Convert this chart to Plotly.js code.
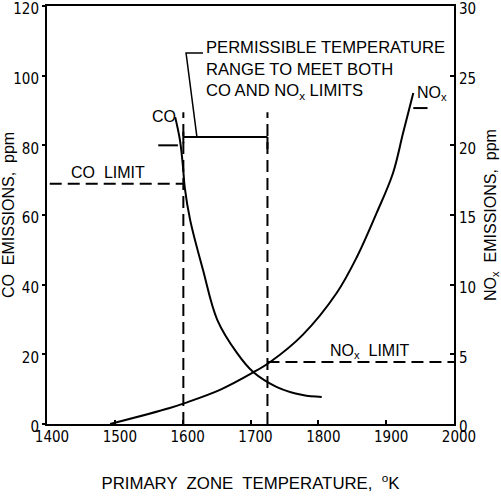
<!DOCTYPE html>
<html>
<head>
<meta charset="utf-8">
<script src="https://cdn.plot.ly/plotly-3.0.1.min.js"></script>
<style>
html,body{margin:0;padding:0;background:#fff;}
#chart{width:501px;height:496px;}
</style>
</head>
<body>
<div id="chart"></div>
<script>
// ---- data ----
const coTemp  = [1589, 1596, 1600.5, 1603, 1611, 1630, 1651, 1680, 1704, 1739, 1777, 1805];
const coPpm   = [88.1, 81.5, 73.8, 68.0, 58.6, 44.2, 29.9, 20.4, 14.9, 10.6, 8.3, 7.75];
const noxTemp = [1493, 1581, 1603, 1655, 1704, 1729, 1777, 1827, 1857, 1886, 1910, 1925, 1940];
const noxPpm  = [0, 1.15, 1.5, 2.45, 3.7, 4.45, 6.4, 9.4, 12.0, 15.15, 18.0, 20.9, 23.75];
const coLimit = 69;        // ppm, left axis
const noxLimit = 4.45;     // ppm, right axis (as drawn)
const rangeLow = 1601;     // K
const rangeHigh = 1725;    // K
const xTicks = [1400, 1500, 1600, 1700, 1800, 1900, 2000];
const coTicks = [0, 20, 40, 60, 80, 100, 120];
const noxTicks = [0, 5, 10, 15, 20, 25, 30];

const tickFont = {family: 'DejaVu Sans Condensed, DejaVu Sans, sans-serif', size: 15, color: '#000'};
const txtFont = {family: 'Liberation Sans, Arial, sans-serif', size: 16, color: '#000'};
const boxFont = {family: 'Liberation Sans, Arial, sans-serif', size: 16.6, color: '#000'};
const dash = '12px,6px';

const traces = [
  {x: coTemp, y: coPpm, mode: 'lines', line: {color: '#000', width: 2, shape: 'spline'}, yaxis: 'y', hoverinfo: 'skip'},
  {x: noxTemp, y: noxPpm, mode: 'lines', line: {color: '#000', width: 2, shape: 'spline'}, yaxis: 'y2', hoverinfo: 'skip'}
];

const bracketY = 82.4, vTop = 89.5;
const shapes = [
  // CO limit
  {type: 'line', xref: 'x', yref: 'y', x0: 1404, x1: rangeLow, y0: coLimit, y1: coLimit, line: {color: '#000', width: 2, dash: dash}},
  // NOx limit
  {type: 'line', xref: 'x', yref: 'y2', x0: rangeHigh, x1: 2000, y0: noxLimit, y1: noxLimit, line: {color: '#000', width: 2, dash: dash}},
  // vertical range lines
  {type: 'line', xref: 'x', yref: 'y', x0: rangeLow, x1: rangeLow, y0: 0, y1: vTop, line: {color: '#000', width: 2, dash: dash}},
  {type: 'line', xref: 'x', yref: 'y', x0: rangeHigh, x1: rangeHigh, y0: 0, y1: vTop, line: {color: '#000', width: 2, dash: dash}},
  // bracket
  {type: 'line', xref: 'x', yref: 'y', x0: rangeLow, x1: rangeHigh, y0: bracketY, y1: bracketY, line: {color: '#000', width: 2}},
  {type: 'line', xref: 'x', yref: 'y', x0: rangeHigh, x1: rangeHigh, y0: bracketY, y1: bracketY - 3.5, line: {color: '#000', width: 2}},
  {type: 'line', xref: 'x', yref: 'y', x0: rangeLow, x1: rangeLow, y0: bracketY + 1.5, y1: bracketY - 1.8, line: {color: '#000', width: 2}},
  // leader
  {type: 'path', xref: 'x', yref: 'y', path: 'M 1621 82.4 L 1605 106.5 L 1630 106.5', line: {color: '#000', width: 1.5}},
  // axis-indicator marks
  {type: 'line', xref: 'x', yref: 'y', x0: 1564, x1: 1593, y0: 80, y1: 80, line: {color: '#000', width: 2}},
  {type: 'line', xref: 'x', yref: 'y', x0: 1940, x1: 1961, y0: 90.7, y1: 90.7, line: {color: '#000', width: 2}}
];

const annotations = [
  {xref: 'x', yref: 'y', x: 1632, y: 111.3, xanchor: 'left', yanchor: 'top', align: 'left', showarrow: false,
   text: 'PERMISSIBLE TEMPERATURE<br>RANGE TO MEET BOTH<br>CO AND NO<sub>x</sub> LIMITS', font: boxFont},
  {xref: 'x', yref: 'y', x: 1572, y: 88.3, xanchor: 'center', yanchor: 'middle', showarrow: false, text: 'CO', font: txtFont},
  {xref: 'x', yref: 'y', x: 1942, y: 95, xanchor: 'left', yanchor: 'middle', showarrow: false, text: 'NO<sub>x</sub>', font: txtFont},
  {xref: 'x', yref: 'y', x: 1490, y: coLimit, xanchor: 'center', yanchor: 'bottom', yshift: 1, showarrow: false, text: 'CO  LIMIT', font: txtFont},
  {xref: 'x', yref: 'y2', x: 1876, y: noxLimit, xanchor: 'center', yanchor: 'bottom', yshift: -1, showarrow: false, text: 'NO<sub>x</sub>  LIMIT', font: txtFont}
];

const layout = {
  width: 501, height: 496,
  margin: {l: 47, r: 47, t: 6, b: 72},
  paper_bgcolor: '#fff', plot_bgcolor: '#fff',
  showlegend: false,
  xaxis: {
    range: [1400, 2000], tickvals: xTicks, ticktext: xTicks.map(String),
    showgrid: false, zeroline: false, showline: true, linecolor: '#000', linewidth: 2, mirror: true,
    ticks: 'inside', ticklen: 4, tickwidth: 2, tickcolor: '#000', tickfont: tickFont,
    ticklabelshift: 5, ticklabelstandoff: -2, ticklabeloverflow: 'allow',
    title: {text: 'PRIMARY  ZONE  TEMPERATURE,  <sup>o</sup>K', font: {family: 'Liberation Sans, Arial, sans-serif', size: 16.8, color: '#000'}, standoff: 32}
  },
  yaxis: {
    range: [0, 120], tickvals: coTicks, ticktext: coTicks.map(String),
    showgrid: false, zeroline: false, showline: true, linecolor: '#000', linewidth: 2,
    ticks: 'outside', ticklen: 3, tickwidth: 2, tickcolor: '#000', tickfont: tickFont, ticklabelstandoff: 0,
    ticklabelshift: 3, ticklabeloverflow: 'allow',
    title: {text: 'CO  EMISSIONS,  ppm', font: txtFont, standoff: 2}
  },
  yaxis2: {
    range: [0, 30], tickvals: noxTicks, ticktext: noxTicks.map(String), overlaying: 'y', side: 'right',
    showgrid: false, zeroline: false, showline: true, linecolor: '#000', linewidth: 2,
    ticks: 'inside', ticklen: 4, tickwidth: 2, tickcolor: '#000', tickfont: tickFont,
    ticklabelshift: 3, ticklabeloverflow: 'allow',
    title: {text: 'NO<sub>x</sub>  EMISSIONS,  ppm', font: txtFont, standoff: 12}
  },
  shapes: shapes,
  annotations: annotations
};

Plotly.newPlot('chart', traces, layout, {displayModeBar: false, staticPlot: true});
</script>
</body>
</html>
